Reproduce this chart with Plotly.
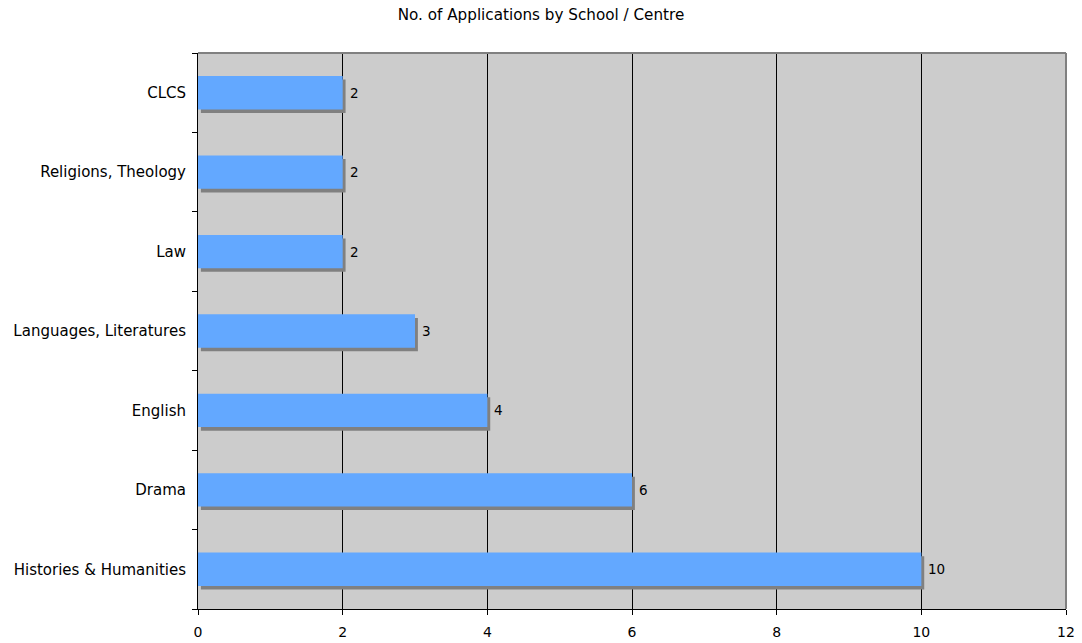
import plotly.graph_objects as go

categories = ["Histories & Humanities", "Drama", "English", "Languages, Literatures",
              "Law", "Religions, Theology", "CLCS"]
values = [10, 6, 4, 3, 2, 2, 2]
x_ticks = [0, 2, 4, 6, 8, 10, 12]

font_family = "Verdana, DejaVu Sans, sans-serif"
bar_w = 0.42

fig = go.Figure()
fig.add_trace(go.Bar(
    y=categories, x=values, orientation="h", base=0.04,
    width=bar_w, offset=-bar_w / 2 - 0.045,
    marker=dict(color="#808080", line=dict(width=0)),
    hoverinfo="skip", showlegend=False,
))
fig.add_trace(go.Bar(
    y=categories, x=values, orientation="h",
    width=bar_w, offset=-bar_w / 2,
    marker=dict(color="#63A8FF", line=dict(width=0)),
    showlegend=False,
))

annotations = [
    dict(x=v, y=c, xref="x", yref="y", text=str(v), showarrow=False,
         xanchor="left", yanchor="middle", xshift=5,
         font=dict(family=font_family, size=13.5, color="#000000"))
    for c, v in zip(categories, values)
]

fig.update_layout(
    width=1082, height=643,
    margin=dict(l=198, r=16, t=53, b=34),
    paper_bgcolor="white", plot_bgcolor="#CCCCCC",
    barmode="overlay",
    title=dict(text="No. of Applications by School / Centre", x=0.5, xanchor="center",
               y=1 - 15 / 643, yanchor="middle",
               font=dict(family=font_family, size=15.2, color="#000000")),
    font=dict(family=font_family, size=13.5, color="#000000"),
    xaxis=dict(range=[0, 12], tickvals=x_ticks, showgrid=True, gridcolor="#000000",
               gridwidth=1, zeroline=False, showline=True, linecolor="#000000",
               linewidth=1, ticks="outside", ticklen=5, tickcolor="#000000",
               tickfont=dict(size=14), ticklabelstandoff=5, automargin=False),
    yaxis=dict(type="category", categoryorder="array", categoryarray=categories,
               range=[-0.5, len(categories) - 0.5],
               showgrid=False, zeroline=False, showline=True, linecolor="#000000",
               linewidth=1, ticks="outside", ticklen=5, tickcolor="#000000",
               tickson="boundaries", tickfont=dict(size=15), ticklabelstandoff=8,
               automargin=False),
    annotations=annotations,
    shapes=[
        dict(type="line", xref="paper", yref="paper", x0=0, x1=1, y0=1, y1=1,
             line=dict(color="#808080", width=2), layer="above"),
        dict(type="line", xref="paper", yref="paper", x0=1, x1=1, y0=0, y1=1,
             line=dict(color="#808080", width=2), layer="above"),
    ],
)

fig.write_html("out.html", config={"displayModeBar": False},
               post_script="document.body.style.margin='0px';document.body.style.overflow='hidden';")
